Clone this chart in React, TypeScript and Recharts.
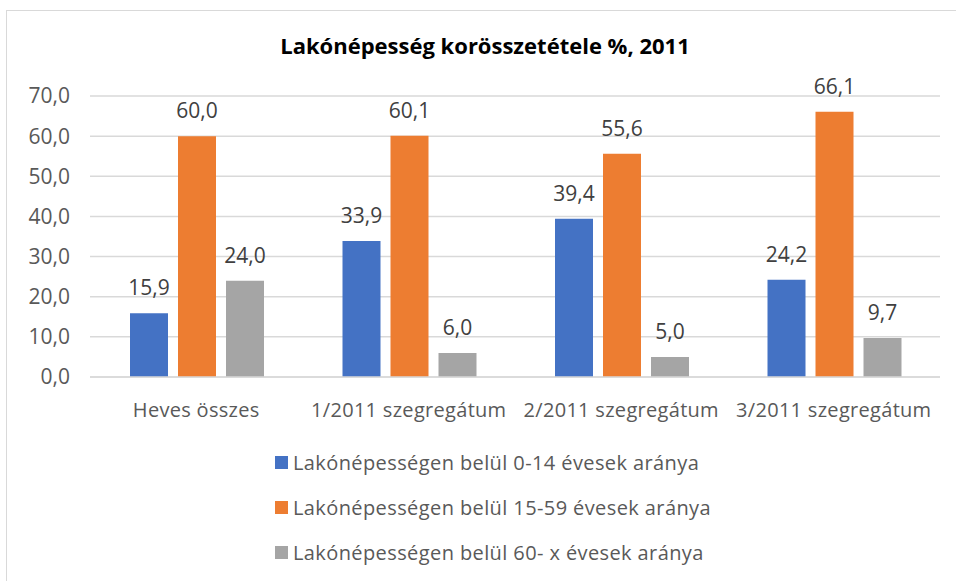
import React from 'react';
import { BarChart, Bar, XAxis, YAxis, CartesianGrid, LabelList } from 'recharts';

const categories = ['Heves összes', '1/2011 szegregátum', '2/2011 szegregátum', '3/2011 szegregátum'];
const age0to14 = [15.9, 33.9, 39.4, 24.2];
const age15to59 = [60.0, 60.1, 55.6, 66.1];
const age60plus = [24.0, 6.0, 5.0, 9.7];
const yTicks = [0, 10, 20, 30, 40, 50, 60, 70];

const SERIES = [
  { key: 'a', name: 'Lakónépességen belül 0-14 évesek aránya', color: '#4472C4' },
  { key: 'b', name: 'Lakónépességen belül 15-59 évesek aránya', color: '#ED7D31' },
  { key: 'c', name: 'Lakónépességen belül 60- x évesek aránya', color: '#A5A5A5' },
];

const FONT = '"Open Sans", "Noto Sans", sans-serif';

const fmt = (v: number) => v.toFixed(1).replace('.', ',');

const data = categories.map((name, i) => ({
  name,
  a: age0to14[i],
  b: age15to59[i],
  c: age60plus[i],
}));

export default function App() {
  return (
    <div style={{ position: 'absolute', left: 0, top: 0, width: 956, height: 581, overflow: 'hidden', background: '#fff' }}>
      <div
        style={{
          position: 'absolute',
          left: 6,
          top: 10,
          width: 980,
          height: 620,
          border: '1.5px solid #d9d9d9',
        }}
      />
      <div
        style={{
          position: 'absolute',
          left: 0,
          top: 30,
          width: 970,
          textAlign: 'center',
          fontFamily: FONT,
          fontWeight: 700,
          fontSize: 22,
          color: '#000',
        }}
      >
        Lakónépesség korösszetétele %, 2011
      </div>
      <BarChart
        width={956}
        height={581}
        data={data}
        margin={{ top: 96, right: 16, bottom: 164, left: 0 }}
        barCategoryGap={40}
        barGap={10}
      >
        <CartesianGrid vertical={false} stroke="#d9d9d9" strokeWidth={1.5} />
        <XAxis
          dataKey="name"
          axisLine={{ stroke: '#d9d9d9', strokeWidth: 1.5 }}
          tickLine={false}
          tickMargin={20}
          height={40}
          interval={0}
          tick={{ fill: '#595959', fontSize: 20, fontFamily: FONT, letterSpacing: 0.3 }}
        />
        <YAxis
          width={90}
          domain={[0, 70]}
          ticks={yTicks}
          tickFormatter={fmt}
          axisLine={false}
          tickLine={false}
          tickMargin={14}
          tick={{ fill: '#595959', fontSize: 21, fontFamily: FONT }}
        />
        {SERIES.map((s) => (
          <Bar key={s.key} dataKey={s.key} name={s.name} fill={s.color} isAnimationActive={false}>
            <LabelList
              dataKey={s.key}
              position="top"
              offset={18}
              formatter={(v: any) => fmt(Number(v))}
              style={{ fill: '#404040', fontSize: 21, fontFamily: FONT }}
            />
          </Bar>
        ))}
      </BarChart>
      <div
        style={{
          position: 'absolute',
          left: 275,
          top: 440,
          fontFamily: FONT,
          fontSize: 20,
          letterSpacing: 0.4,
          color: '#595959',
        }}
      >
        {SERIES.map((s) => (
          <div key={s.key} style={{ display: 'flex', alignItems: 'center', height: 45 }}>
            <div style={{ width: 13, height: 13, background: s.color, marginRight: 5 }} />
            <span>{s.name}</span>
          </div>
        ))}
      </div>
    </div>
  );
}
